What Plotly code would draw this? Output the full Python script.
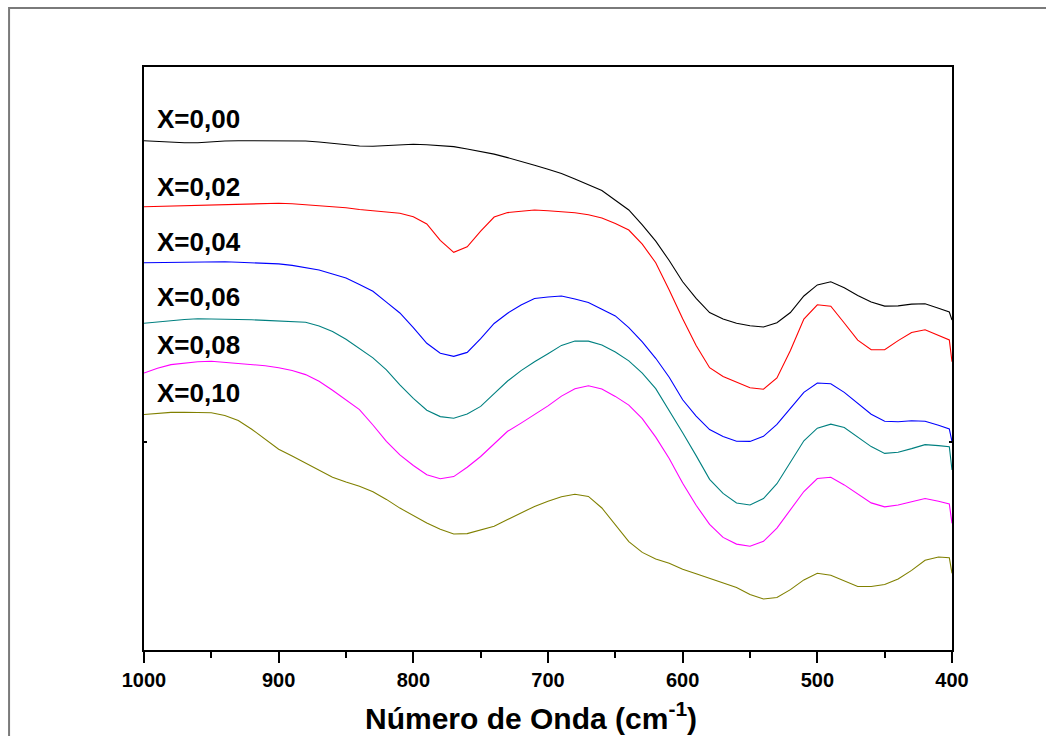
import plotly.graph_objects as go

# Wavenumbers (cm-1)
wavenumber = [1000, 990, 980, 970, 960, 950, 940, 930, 920, 910, 900, 890, 880, 870, 860,
              850, 840, 830, 820, 810, 800, 790, 780, 770, 760, 750, 740, 730, 720, 710,
              700, 690, 680, 670, 660, 650, 640, 630, 620, 610, 600, 590, 580, 570, 560,
              550, 540, 530, 520, 510, 500, 490, 480, 470, 460, 450, 440, 430, 420, 410,
              402, 400]

# Transmittance (arbitrary units, curves stacked)
x000 = [509.2, 508.5, 507.8, 507.2, 507.2, 508.2, 509.0, 509.3, 509.3, 509.2, 509.1, 509.0, 509.0, 508.0, 506.5,
        505.0, 504.0, 503.7, 504.5, 505.7, 505.8, 505.2, 504.5, 503.4, 501.0, 498.6, 495.9, 492.4, 488.8, 484.8,
        480.7, 476.4, 471.0, 465.5, 459.4, 449.8, 440.0, 425.2, 408.8, 389.5, 368.2, 351.6, 337.4, 331.1, 326.8,
        324.2, 323.0, 327.3, 337.5, 354.0, 365.1, 368.2, 362.3, 354.6, 347.9, 343.9, 344.1, 345.9, 346.3, 341.8,
        338.0, 330.0]
x002 = [443.3, 443.6, 443.9, 444.2, 444.4, 445.2, 445.6, 446.0, 446.3, 446.6, 446.7, 446.2, 445.3, 444.4, 443.5,
        442.3, 440.5, 439.0, 437.7, 436.7, 433.3, 426.0, 409.7, 397.7, 403.2, 418.9, 433.0, 437.4, 438.8, 440.0,
        439.3, 438.6, 437.2, 435.2, 432.0, 426.5, 420.0, 405.9, 387.2, 360.0, 331.3, 304.5, 282.3, 273.6, 268.1,
        262.2, 260.8, 272.0, 299.5, 331.0, 345.2, 343.8, 327.0, 309.8, 300.3, 300.2, 309.4, 317.5, 320.2, 314.8,
        310.0, 288.3]
x004 = [387.3, 387.5, 387.7, 387.9, 388.1, 388.2, 388.2, 387.7, 387.2, 386.7, 386.1, 384.6, 382.5, 380.0, 376.0,
        372.0, 365.5, 358.7, 347.9, 337.0, 322.3, 306.7, 296.7, 293.6, 297.6, 311.3, 326.5, 336.8, 345.0, 351.5,
        353.0, 354.0, 351.0, 347.6, 340.8, 334.1, 322.4, 308.2, 291.7, 272.8, 250.2, 233.9, 220.4, 213.4, 208.8,
        208.6, 213.7, 225.6, 241.7, 257.7, 267.0, 266.3, 257.6, 246.8, 235.8, 228.7, 228.2, 229.2, 228.7, 224.7,
        221.0, 208.3]
x006 = [326.8, 328.1, 329.3, 330.5, 331.2, 331.1, 330.9, 330.7, 330.2, 329.6, 329.1, 328.4, 327.8, 324.1, 318.5,
        310.7, 301.8, 292.1, 280.2, 265.1, 251.7, 239.8, 233.4, 231.8, 236.0, 243.6, 256.4, 269.0, 279.4, 288.3,
        296.3, 304.6, 308.9, 308.9, 305.0, 298.0, 289.1, 276.9, 261.4, 239.6, 217.2, 194.4, 170.7, 156.6, 147.0,
        145.0, 151.5, 166.3, 188.1, 209.2, 221.8, 225.9, 222.5, 213.3, 203.4, 196.6, 197.8, 201.4, 205.4, 204.4,
        203.3, 180.0]
x008 = [277.0, 281.7, 285.4, 286.8, 288.3, 288.7, 287.7, 286.8, 285.8, 284.3, 282.2, 279.5, 275.4, 268.7, 259.8,
        250.5, 240.4, 225.0, 208.7, 195.1, 184.5, 175.3, 171.3, 173.4, 182.7, 193.5, 205.7, 218.7, 226.9, 235.2,
        244.1, 253.9, 261.2, 264.2, 261.0, 253.6, 244.9, 231.4, 212.9, 191.5, 166.7, 144.7, 125.6, 112.6, 105.9,
        103.8, 108.7, 121.9, 140.1, 158.5, 171.5, 172.7, 165.1, 156.1, 147.1, 143.1, 145.0, 148.3, 151.5, 148.7,
        146.0, 126.7]
x010 = [235.5, 236.8, 237.6, 237.7, 237.6, 237.2, 234.5, 229.4, 220.8, 210.6, 200.8, 194.0, 187.1, 179.4, 172.8,
        167.9, 163.7, 158.2, 150.6, 141.9, 134.4, 127.0, 120.7, 116.0, 116.4, 119.7, 123.7, 130.4, 137.0, 143.6,
        148.8, 153.3, 155.7, 153.6, 142.0, 124.7, 108.3, 97.6, 91.1, 86.7, 80.8, 76.2, 71.7, 67.2, 62.6,
        55.4, 51.0, 52.5, 60.4, 70.1, 76.7, 74.8, 69.0, 63.5, 63.5, 65.5, 71.1, 79.6, 89.8, 93.0,
        92.3, 76.7]

series_names = ["X=0,00", "X=0,02", "X=0,04", "X=0,06", "X=0,08", "X=0,10"]
series_values = [x000, x002, x004, x006, x008, x010]
series_colors = ["#000000", "#FF0000", "#0000FF", "#008080", "#FF00FF", "#808000"]
label_y = [531, 463, 408, 353, 305, 257.5]

major_ticks = [1000, 900, 800, 700, 600, 500, 400]
minor_ticks = [950, 850, 750, 650, 550, 450]

fig = go.Figure()
for name, vals, col in zip(series_names, series_values, series_colors):
    fig.add_trace(go.Scatter(x=wavenumber, y=vals, mode="lines", name=name,
                             line=dict(color=col, width=1.1), showlegend=False))

for name, ly in zip(series_names, label_y):
    fig.add_annotation(x=992, y=ly, xref="x", yref="y", text="<b>" + name + "</b>",
                       showarrow=False, xanchor="left", yanchor="middle",
                       font=dict(family="Liberation Sans, Arial", size=26, color="black"))

fig.add_annotation(x=0.479, y=-0.113, xref="paper", yref="paper",
                   text="<b>Número de Onda (cm<sup>-1</sup>)</b>", showarrow=False,
                   xanchor="center", yanchor="middle",
                   font=dict(family="Liberation Sans, Arial", size=30, color="black"))

# outer frame
fig.add_shape(type="rect", xref="paper", yref="paper", x0=-0.167, x1=1.2, y0=-0.2, y1=1.101,
              line=dict(color="#7a7a7a", width=2), layer="below")

fig.update_layout(
    width=1046, height=736,
    margin=dict(l=144, r=94, t=67, b=86),
    paper_bgcolor="white", plot_bgcolor="white",
    xaxis=dict(range=[1000, 400], tickvals=major_ticks, ticks="outside", ticklen=11, tickwidth=2,
               tickcolor="black", showline=True, linewidth=2, linecolor="black", mirror=True,
               showgrid=False, zeroline=False,
               tickfont=dict(family="Liberation Sans, Arial", size=20, color="black", weight="bold"),
               minor=dict(tickvals=minor_ticks, ticks="outside", ticklen=6, tickwidth=2, tickcolor="black")),
    xaxis2=dict(range=[1000, 400], overlaying="x", side="top", anchor="y",
                tickvals=major_ticks + minor_ticks, ticks="inside", ticklen=3, tickwidth=2,
                tickcolor="black", showticklabels=False, showgrid=False, zeroline=False, showline=False),
    yaxis=dict(range=[0, 583], tickvals=[208], ticks="inside", ticklen=3, tickwidth=2, tickcolor="black",
               showticklabels=False, showline=True, linewidth=2, linecolor="black", mirror="allticks",
               showgrid=False, zeroline=False),
)

fig.write_html("out.html")
